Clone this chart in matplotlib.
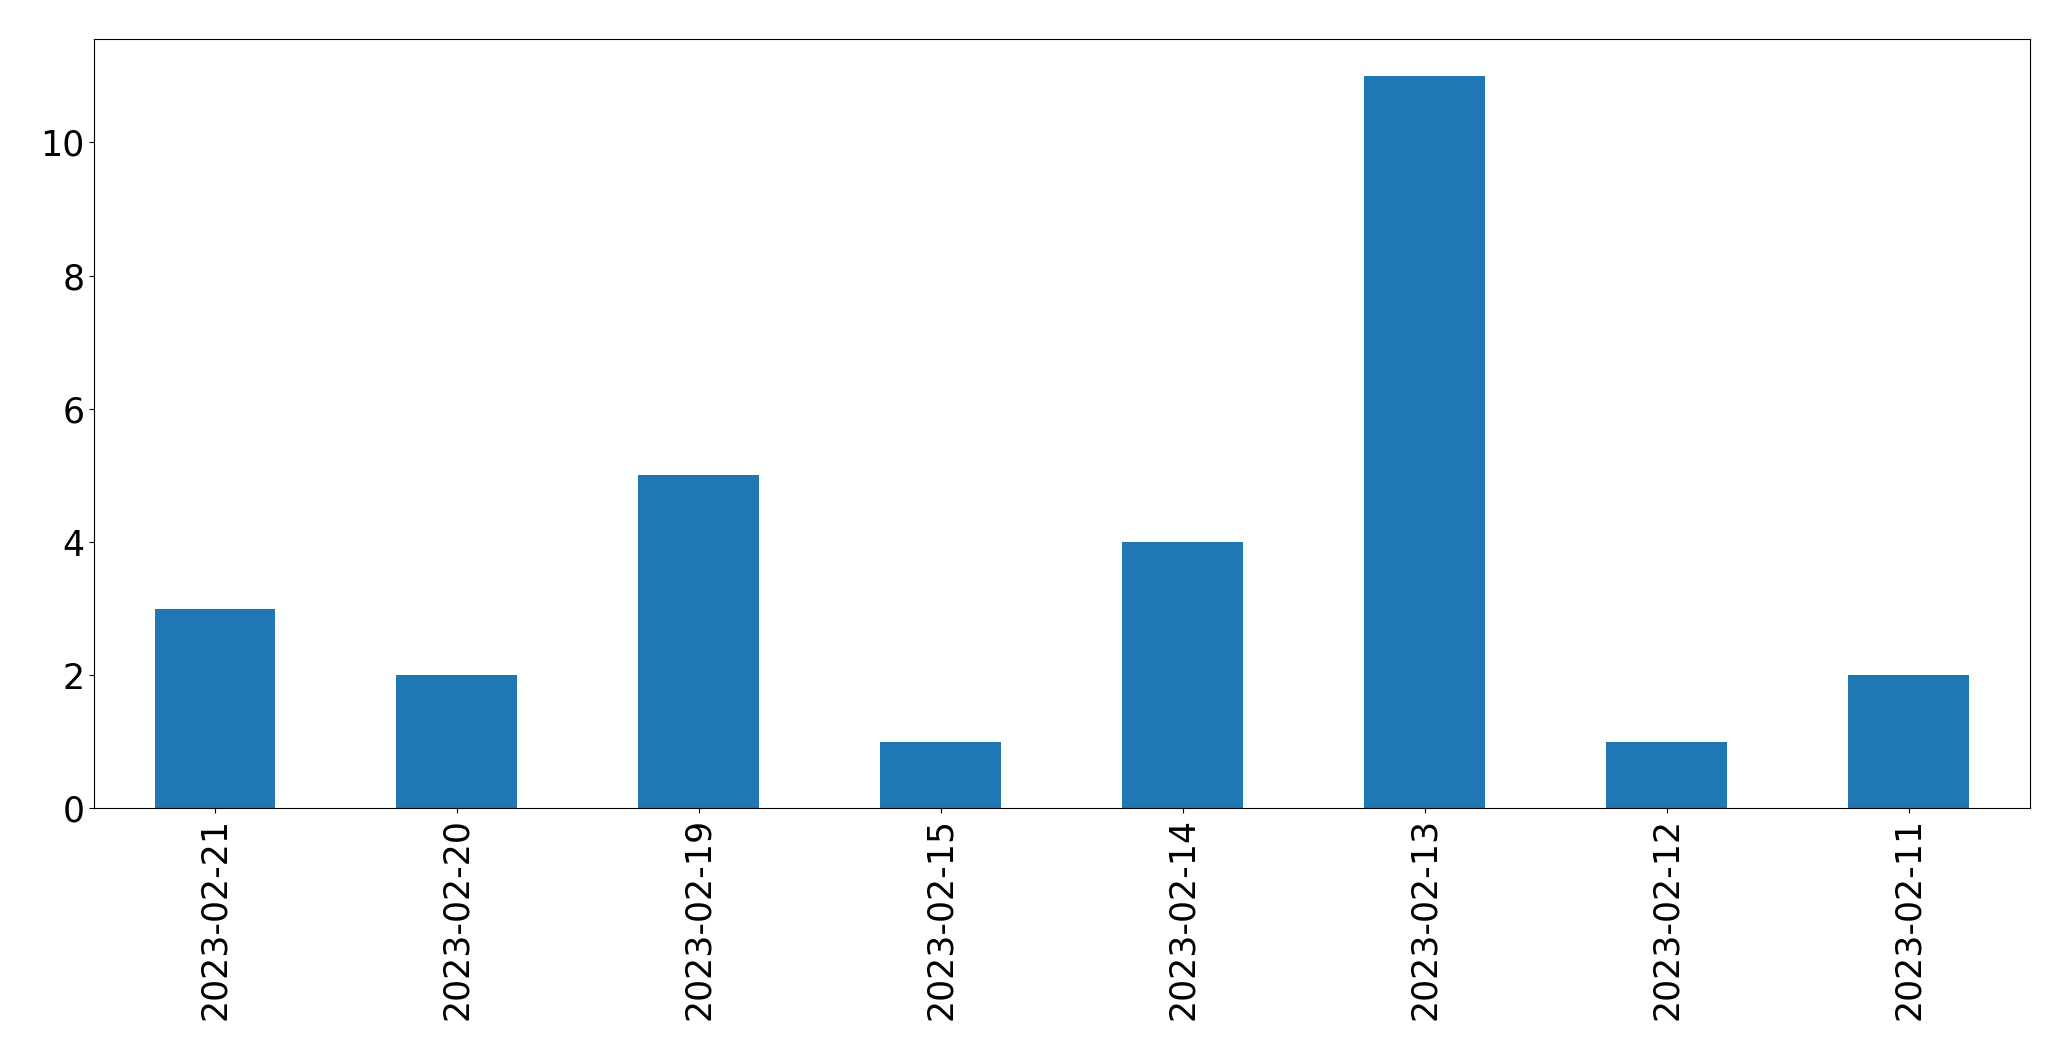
import matplotlib
matplotlib.use('Agg')
import matplotlib.pyplot as plt

dates = ['2023-02-21', '2023-02-20', '2023-02-19', '2023-02-15',
         '2023-02-14', '2023-02-13', '2023-02-12', '2023-02-11']
counts = [3, 2, 5, 1, 4, 11, 1, 2]

fig = plt.figure(figsize=(20.71, 10.61), dpi=100)
fig.subplots_adjust(left=0.0454, right=0.980, top=0.963, bottom=0.238)
ax = fig.add_subplot(111)

x = range(len(dates))
ax.bar(x, counts, width=0.5, color='#1f77b4')
ax.set_xlim(-0.5, len(dates) - 0.5)
ax.set_xticks(list(x))
ax.set_xticklabels(dates, rotation=90)
ax.tick_params(axis='both', labelsize=25)

fig.savefig('out.png', dpi=100)
